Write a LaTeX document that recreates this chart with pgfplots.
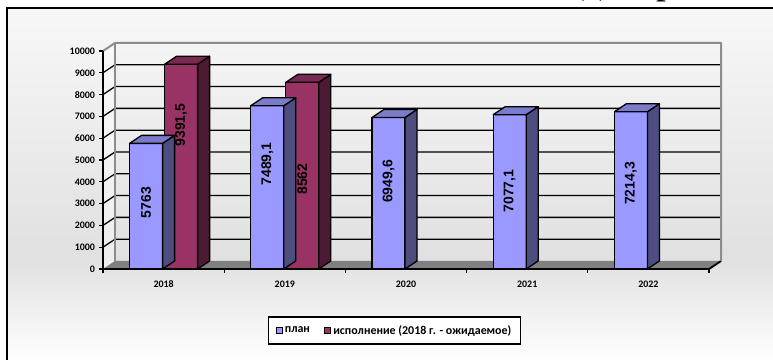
\documentclass[border=0pt]{standalone}
\usepackage{pgfplots}
\pgfplotsset{compat=1.18}
\usepackage{pgfplotstable}
\usepackage{fontspec}
\setmainfont{Carlito}
\newfontfamily\arialfont{Liberation Sans}
\newfontfamily\seriffont{Liberation Serif}

\definecolor{plfront}{HTML}{9999FF}
\definecolor{pltop}{HTML}{7B7BCB}
\definecolor{plside}{HTML}{4D4D80}
\definecolor{ispfront}{HTML}{993366}
\definecolor{isptop}{HTML}{7A2952}
\definecolor{ispside}{HTML}{4D1A33}
\definecolor{wallgray}{HTML}{8C8C8C}
\definecolor{floorgray}{HTML}{808080}

\pgfplotstableread{
x v
0 5763
1 7489.1
2 6949.6
3 7077.1
4 7214.3
}\plan
\pgfplotstableread{
x v
0 9391.5
1 8562
}\isp
\pgfplotstableread{
x ly lab
-0.1444 3050 5763
0.1444 6606 9391,5
0.8556 4817 7489,1
1.1444 4128 8562
1.8556 4014 6949,6
2.8556 3578 7077,1
3.8556 3922 7214,3
}\labels

\pgfdeclareplotmark{top3d}{%
  \pgfpathmoveto{\pgfpoint{-16.5bp}{0bp}}%
  \pgfpathlineto{\pgfpoint{16.5bp}{0bp}}%
  \pgfpathlineto{\pgfpoint{28.5bp}{8bp}}%
  \pgfpathlineto{\pgfpoint{-4.5bp}{8bp}}%
  \pgfpathclose
  \pgfusepathqfillstroke
}
\pgfdeclareplotmark{side3d}{%
  \pgfpathmoveto{\pgfpoint{16.5bp}{0bp}}%
  \pgfpathlineto{\pgfpoint{28.5bp}{8bp}}%
  \pgfpathlineto{\pgfpoint{28.5bp}{8bp-0.0218bp*\val}}%
  \pgfpathlineto{\pgfpoint{16.5bp}{-0.0218bp*\val}}%
  \pgfpathclose
  \pgfusepathqfillstroke
}

\begin{document}
\begin{tikzpicture}
\useasboundingbox (0,0) rectangle (773bp,360bp);
\begin{scope}
\clip (0,0) rectangle (773bp,360bp);
\shade[top color=black!3, bottom color=black!12] (7bp,100bp) rectangle (780bp,352bp);
\shade[top color=black!12, bottom color=white] (7bp,-1bp) rectangle (780bp,100.5bp);
\draw[line width=2.2bp] (7bp,-10bp) -- (7bp,352bp) -- (790bp,352bp);
\node[font=\seriffont\fontsize{40}{40}\selectfont, anchor=base west, inner sep=0] at (582bp,366bp) {д};
\node[font=\seriffont\fontsize{40}{40}\selectfont, anchor=base west, inner sep=0] at (656bp,366bp) {р};
\end{scope}
\begin{axis}[
  at={(103bp,91bp)}, anchor=south west,
  scale only axis, width=606bp, height=218bp,
  xmin=-0.5, xmax=4.5, ymin=0, ymax=10000,
  clip=false, axis on top,
  axis x line*=bottom, axis y line*=left,
  axis line style={-},
  x axis line style={line width=2bp},
  y axis line style={line width=1.6bp},
  tick align=outside,
  major tick length=4bp,
  tick style={black, line width=1.3bp},
  ytick={0,1000,2000,3000,4000,5000,6000,7000,8000,9000,10000},
  scaled y ticks=false,
  /pgf/number format/assume math mode=true,
  /pgf/number format/1000 sep={},
  yticklabel style={font=\fontsize{10}{10}\selectfont\bfseries, xshift=-0.5bp},
  xtick={-0.5,0.5,1.5,2.5,3.5,4.5},
  xticklabels={},
  extra x ticks={0,1,2,3,4},
  extra x tick labels={2018,2019,2020,2021,2022},
  extra x tick style={major tick length=0pt},
  xticklabel style={font=\fontsize{10}{10}\selectfont\bfseries, yshift=-8.5bp},
  legend style={at={(0.481,-0.282)}, anchor=center, draw=black, line width=1.5bp,
    fill=white, font=\fontsize{12}{12}\selectfont\bfseries, legend columns=2,
    /tikz/every even column/.append style={column sep=12bp},
    inner xsep=7bp, inner ysep=6.5bp},
]
% left wall
\fill[white, opacity=0.45] (axis cs:-0.5,0) -- (axis cs:-0.5,10000)
  -- ([shift={(12bp,8bp)}]axis cs:-0.5,10000) -- ([shift={(12bp,8bp)}]axis cs:-0.5,0) -- cycle;
% floor
\fill[floorgray] (axis cs:-0.5,0) -- (axis cs:4.5,0) -- ([shift={(12bp,8bp)}]axis cs:4.5,0)
  -- ([shift={(12bp,8bp)}]axis cs:-0.5,0) -- cycle;
\draw[black, line width=1.8bp] (axis cs:4.5,0) -- ([shift={(12bp,8bp)}]axis cs:4.5,0);
% grid
\pgfplotsinvokeforeach{1000,2000,3000,4000,5000,6000,7000,8000,9000}{
  \draw[black, line width=1.3bp] (axis cs:-0.5,#1) -- ([shift={(12bp,8bp)}]axis cs:-0.5,#1)
    -- ([shift={(12bp,8bp)}]axis cs:4.5,#1);
}
% wall outline
\draw[wallgray, line width=2bp, line join=round] (axis cs:-0.5,10000) -- ([shift={(12bp,8bp)}]axis cs:-0.5,10000)
  -- ([shift={(12bp,8bp)}]axis cs:4.5,10000) -- ([shift={(12bp,8bp)}]axis cs:4.5,0);
\draw[wallgray, line width=1.6bp] ([shift={(12bp,8bp)}]axis cs:-0.5,10000) -- ([shift={(12bp,8bp)}]axis cs:-0.5,0);

% plan bars
\addplot[forget plot, ybar, bar width=33bp, bar shift=-17.5bp, fill=plfront, draw=black, line width=1.3bp]
  table[x=x, y=v]{\plan};
\addplot[forget plot, scatter, only marks, mark=side3d,
  scatter/use mapped color={draw=black, fill=plside},
  mark options={line width=1.3bp, line join=round},
  visualization depends on={rawy \as \val}]
  table[x expr=\thisrow{x}-0.1444, y=v]{\plan};
\addplot[forget plot, scatter, only marks, mark=top3d,
  scatter/use mapped color={draw=black, fill=pltop},
  mark options={line width=1.3bp, line join=round}]
  table[x expr=\thisrow{x}-0.1444, y=v]{\plan};

% isp bars
\addplot[forget plot, ybar, bar width=33bp, bar shift=17.5bp, fill=ispfront, draw=black, line width=1.3bp]
  table[x=x, y=v]{\isp};
\addplot[forget plot, scatter, only marks, mark=side3d,
  scatter/use mapped color={draw=black, fill=ispside},
  mark options={line width=1.3bp, line join=round},
  visualization depends on={rawy \as \val}]
  table[x expr=\thisrow{x}+0.1444, y=v]{\isp};
\addplot[forget plot, scatter, only marks, mark=top3d,
  scatter/use mapped color={draw=black, fill=isptop},
  mark options={line width=1.3bp, line join=round}]
  table[x expr=\thisrow{x}+0.1444, y=v]{\isp};

% value labels
\addplot[forget plot, draw=none, mark=none, nodes near coords, point meta=explicit symbolic,
  every node near coord/.append style={rotate=90, anchor=center, black,
    font=\arialfont\bfseries\fontsize{14}{14}\selectfont}]
  table[x=x, y=ly, meta=lab]{\labels};

\addlegendimage{legend image code/.code={\draw[black, line width=1.3bp, fill=plfront] (0bp,-3bp) rectangle (6bp,3bp);}}
\addlegendentry{план}
\addlegendimage{legend image code/.code={\draw[black, line width=1.3bp, fill=ispfront] (0bp,-3bp) rectangle (6bp,3bp);}}
\addlegendentry{исполнение (2018 г. - ожидаемое)}
\end{axis}
\end{tikzpicture}
\end{document}
